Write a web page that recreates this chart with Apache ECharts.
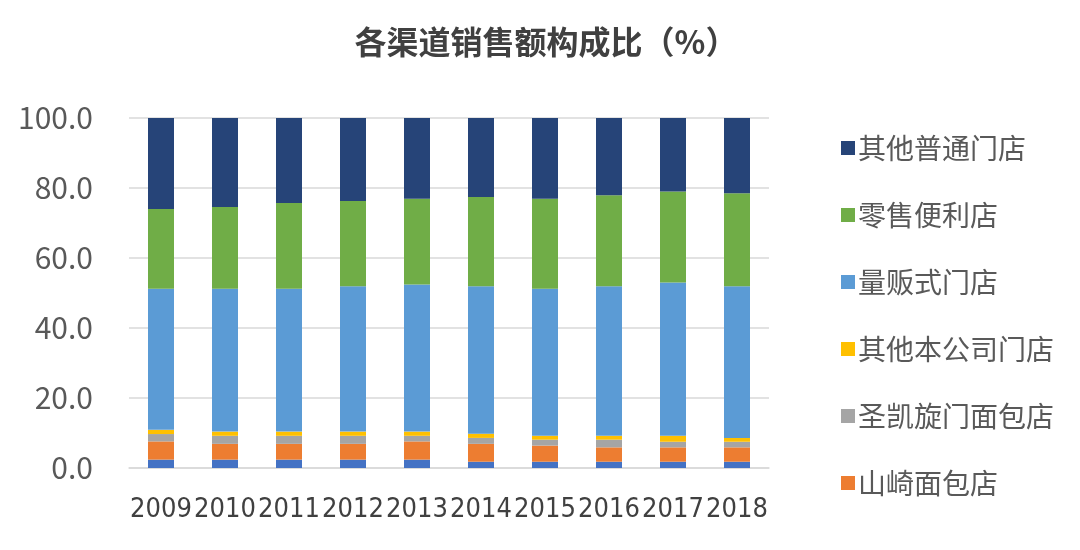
<!DOCTYPE html>
<html><head><meta charset="utf-8">
<script src="https://cdn.jsdelivr.net/npm/echarts@6/dist/echarts.min.js"></script>
<style>html,body{margin:0;padding:0;background:#fff}#c{width:1080px;height:550px}</style>
</head><body><div id="c"></div>
<script>
const categories = ['2009','2010','2011','2012','2013','2014','2015','2016','2017','2018'];
const seriesNames = ['其他普通门店','零售便利店','量贩式门店','其他本公司门店','圣凯旋门面包店','山崎面包店'];
const otherBottom = [2.4,2.4,2.4,2.4,2.4,1.8,1.8,1.8,1.8,1.8];
const yamazaki = [5.2,4.5,4.5,4.5,5.2,5.1,4.6,4.1,4.1,4.1];
const saintArc = [2.1,2.3,2.3,2.3,1.6,1.7,1.7,2.2,1.6,1.6];
const otherOwn = [1.2,1.2,1.2,1.2,1.2,1.2,1.1,1.1,1.7,1.1];
const massRetail = [40.3,40.8,40.8,41.5,42.0,42.1,42.0,42.7,43.8,43.3];
const convenience = [22.8,23.4,24.5,24.4,24.5,25.5,25.7,26.0,26.0,26.6];
const otherGeneral = [26.0,25.4,24.3,23.7,23.1,22.6,23.1,22.1,21.0,21.5];
const yTicks = [0,20,40,60,80,100];

const font = '"Noto Sans CJK SC","Noto Sans",sans-serif';
const colors = {
  bottom:'#4472C4', yamazaki:'#ED7D31', saint:'#A5A5A5', own:'#FFC000',
  mass:'#5B9BD5', conv:'#70AD47', gen:'#264478'
};
function s(name, data, color){
  return {name, type:'bar', stack:'t', data, barWidth:26, itemStyle:{color}, emphasis:{disabled:true}};
}
const chart = echarts.init(document.getElementById('c'), null, {renderer:'canvas'});
chart.setOption({
  animation:false,
  title:{text:'各渠道销售额构成比（%）', left:541, textAlign:'center', top:21,
    textStyle:{fontFamily:font, fontSize:32, fontWeight:'bold', color:'#404040'}},
  grid:{left:129, right:311, top:118, bottom:82, containLabel:false},
  legend:{orient:'vertical', left:836, top:129, itemWidth:14, itemHeight:14, itemGap:39,
    icon:'rect', data:seriesNames,
    textStyle:{fontFamily:font, fontSize:28, color:'#595959', lineHeight:28, padding:[0,0,0,-2]}},
  xAxis:{type:'category', data:categories,
    axisLine:{lineStyle:{color:'#D9D9D9', width:1.5}}, axisTick:{show:false},
    axisLabel:{fontFamily:'"Liberation Sans Narrow","DejaVu Sans Condensed",sans-serif', fontSize:27, color:'#404040', margin:28, interval:0}},
  yAxis:{type:'value', min:yTicks[0], max:yTicks[yTicks.length-1], interval:20,
    axisLine:{show:false}, axisTick:{show:false},
    splitLine:{lineStyle:{color:'#D9D9D9', width:1.5}},
    axisLabel:{fontFamily:font, fontSize:30, color:'#595959', margin:36,
      formatter:v=>v.toFixed(1)}},
  series:[
    s('', otherBottom, colors.bottom),
    s(seriesNames[5], yamazaki, colors.yamazaki),
    s(seriesNames[4], saintArc, colors.saint),
    s(seriesNames[3], otherOwn, colors.own),
    s(seriesNames[2], massRetail, colors.mass),
    s(seriesNames[1], convenience, colors.conv),
    s(seriesNames[0], otherGeneral, colors.gen)
  ]
});
</script></body></html>
